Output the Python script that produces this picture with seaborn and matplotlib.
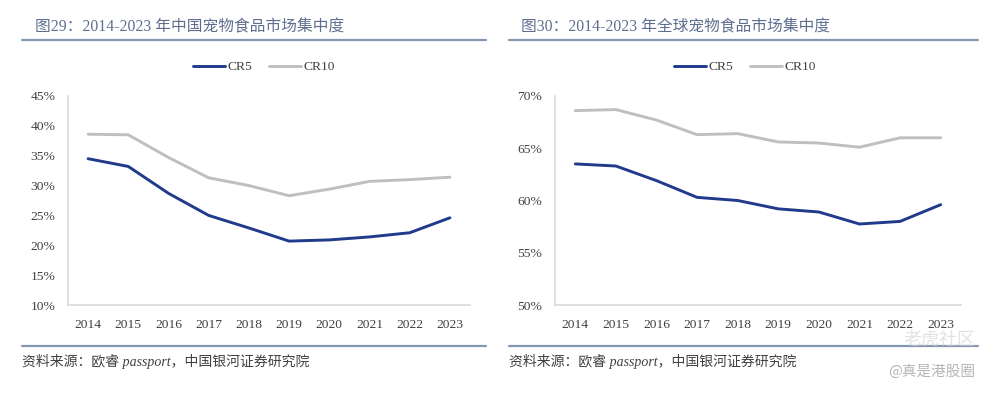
import matplotlib
matplotlib.use("Agg")
import matplotlib.pyplot as plt
import seaborn as sns
import pandas as pd
from matplotlib.lines import Line2D

sns.set_theme(style="white")
plt.rcParams['font.family'] = ['Liberation Serif', 'Noto Sans CJK SC', 'DejaVu Sans']

years = [2014, 2015, 2016, 2017, 2018, 2019, 2020, 2021, 2022, 2023]
china_cr5 = [34.5, 33.2, 28.7, 25.0, 22.9, 20.7, 20.9, 21.4, 22.1, 24.6]
china_cr10 = [38.6, 38.5, 34.7, 31.3, 30.0, 28.3, 29.4, 30.7, 31.0, 31.4]
global_cr5 = [63.5, 63.3, 61.9, 60.3, 60.0, 59.2, 58.9, 57.75, 58.0, 59.6]
global_cr10 = [68.6, 68.7, 67.7, 66.3, 66.4, 65.6, 65.5, 65.1, 66.0, 66.0]
series_names = ["CR5", "CR10"]
china_yticks = [10, 15, 20, 25, 30, 35, 40, 45]
global_yticks = [50, 55, 60, 65, 70]
titles = ["图29：2014-2023 年中国宠物食品市场集中度", "图30：2014-2023 年全球宠物食品市场集中度"]
source = "资料来源：欧睿 passport，中国银河证券研究院"

palette = {"CR5": "#203A8C", "CR10": "#BFBFBF"}
W, H = 992, 393
fig = plt.figure(figsize=(W / 100, H / 100), dpi=100)

def fx(x):
    return x / W

def fy(y):
    return 1 - y / H

def make_df(cr5, cr10):
    return pd.DataFrame({
        "year": years * 2,
        "value": cr5 + cr10,
        "series": ["CR5"] * len(years) + ["CR10"] * len(years),
    })

panels = [
    dict(df=make_df(china_cr5, china_cr10), yt=china_yticks, ax=(68, 96, 470, 305),
         title_x=35, line=(22, 486), legend_x=264),
    dict(df=make_df(global_cr5, global_cr10), yt=global_yticks, ax=(555, 96, 961, 305),
         title_x=521, line=(509, 978), legend_x=745),
]

tick_color = "#404040"
for i, p in enumerate(panels):
    x0, y0, x1, y1 = p["ax"]
    ax = fig.add_axes([fx(x0), fy(y1), fx(x1 - x0), (y1 - y0) / H])
    sns.lineplot(data=p["df"], x="year", y="value", hue="series", hue_order=series_names,
                 palette=palette, linewidth=2.1, ax=ax, legend=False)
    ax.set_xlim(2013.5, 2023.5)
    ax.set_ylim(p["yt"][0], p["yt"][-1])
    ax.set_yticks(p["yt"])
    ax.set_yticklabels([f"{v}%" for v in p["yt"]])
    ax.set_xticks(years)
    ax.set_xticklabels([str(y) for y in years])
    ax.set_xlabel("")
    ax.set_ylabel("")
    for s in ["top", "right"]:
        ax.spines[s].set_visible(False)
    for s in ["left", "bottom"]:
        ax.spines[s].set_color("#D9D9D9")
        ax.spines[s].set_linewidth(1.2)
    ax.tick_params(axis="y", length=0, pad=9, labelsize=9.7, labelcolor=tick_color)
    ax.tick_params(axis="x", length=0, pad=10, labelsize=9.7, labelcolor=tick_color)
    ax.grid(False)

    handles = [Line2D([], [], color=palette[n], lw=2.1) for n in series_names]
    fig.legend(handles, series_names, loc="center", ncol=2, frameon=False,
               bbox_to_anchor=(fx(p["legend_x"]), fy(67)), fontsize=9.7,
               handlelength=2.4, handletextpad=0.2, columnspacing=1.2,
               labelcolor="#404040")

    fig.text(fx(p["title_x"]), fy(27), titles[i], fontsize=11.3, color="#5E6E8E",
             va="center", ha="left")
    l1, l2 = p["line"]
    fig.add_artist(Line2D([fx(l1), fx(l2)], [fy(40), fy(40)], color="#8497B0", lw=1.6))
    fig.add_artist(Line2D([fx(l1), fx(l2)], [fy(346), fy(346)], color="#8497B0", lw=1.6))
    fig.text(fx(l1), fy(361), source, fontsize=10, color="#404040", style="italic",
             va="center", ha="left")

fig.text(fx(975), fy(372), "@真是港股圈", fontsize=10.5, color="#B5B5B5",
         va="center", ha="right", family=["Noto Sans CJK SC"])
fig.text(fx(975), fy(340), "老虎社区", fontsize=13, color="#D0D0D0", alpha=0.6,
         va="center", ha="right", family=["Noto Sans CJK SC"])

fig.savefig("out.png", dpi=100, facecolor="white")
